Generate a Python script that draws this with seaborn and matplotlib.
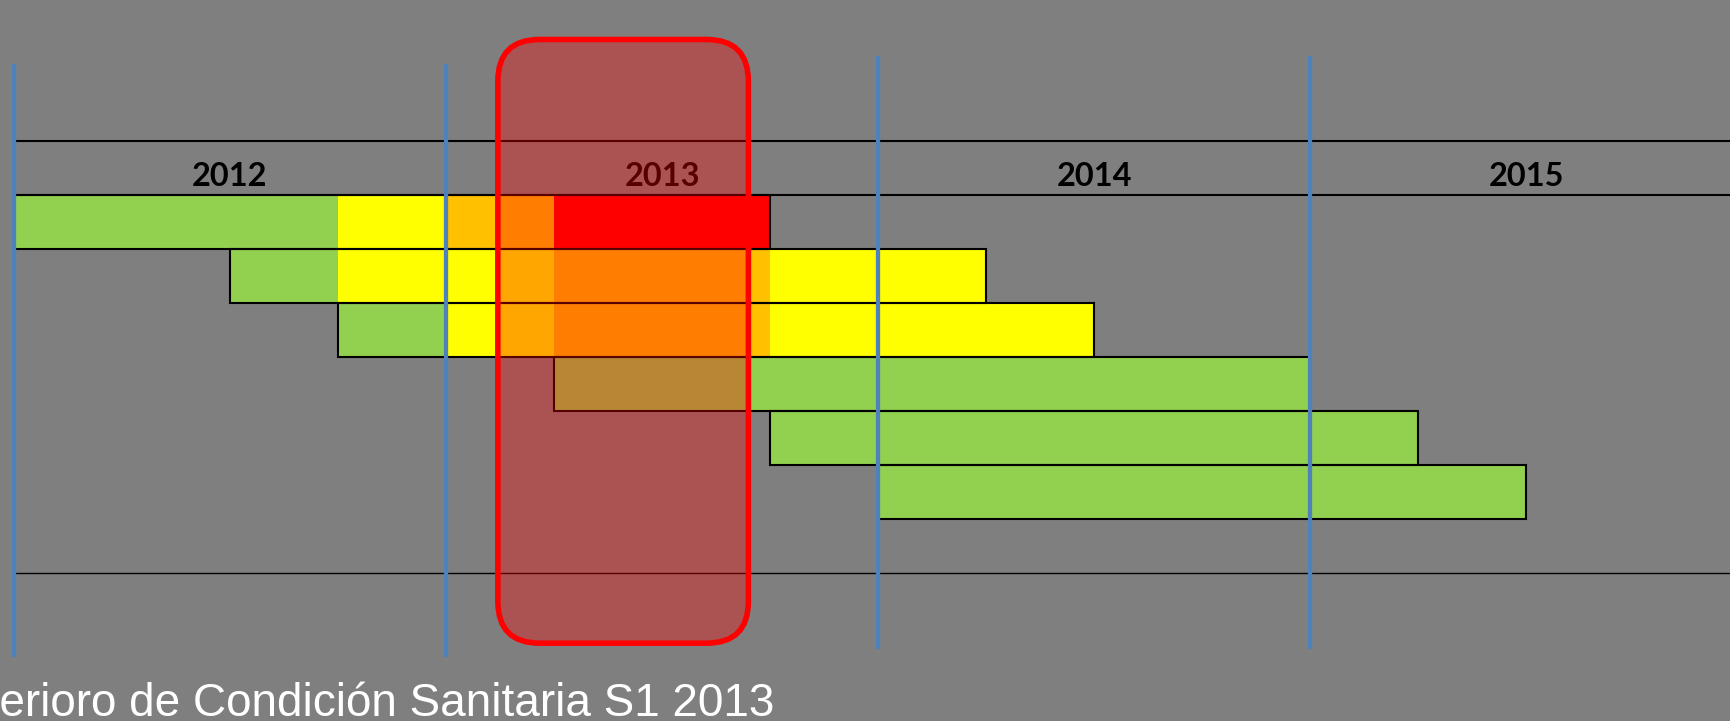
import matplotlib
matplotlib.use("Agg")
import matplotlib.pyplot as plt
from matplotlib.patches import FancyBboxPatch
import seaborn as sns

# cohortes (una fila cada una) y tramos de condicion sanitaria, en anos decimales
rows = ["C1", "C2", "C3", "C4", "C5", "C6"]
seg_row = [0, 0, 0, 0,
           1, 1, 1, 1,
           2, 2, 2, 2,
           3, 4, 5]
seg_start = [2012.0, 2012.75, 2013.0, 2013.25,
             2012.5, 2012.75, 2013.25, 2013.75,
             2012.75, 2013.0, 2013.25, 2013.75,
             2013.25, 2013.75, 2014.0]
seg_end = [2012.75, 2013.0, 2013.25, 2013.75,
           2012.75, 2013.25, 2013.75, 2014.25,
           2013.0, 2013.25, 2013.75, 2014.5,
           2015.0, 2015.25, 2015.5]
seg_state = ["sano", "leve", "moderado", "severo",
             "sano", "leve", "moderado", "leve",
             "sano", "leve", "moderado", "leve",
             "sano", "sano", "sano"]
years = [2012, 2013, 2014, 2015]
highlight = (2013.12, 2013.70)  # S1 2013
caption = "Deterioro de Condición Sanitaria S1 2013"

palette = {"sano": "#92D050", "leve": "#FFFF00", "moderado": "#FFC000", "severo": "#FF0000"}
bg = "#7F7F7F"
blue = "#4F81BD"

sns.set_theme(style="white")
fig = plt.figure(figsize=(17.31, 7.21), dpi=100, facecolor=bg)
ax = fig.add_axes([0, 0, 1, 1], facecolor=bg)

# tramos de color
for r, s, e, st in zip(seg_row, seg_start, seg_end, seg_state):
    sns.barplot(x=[e - s], y=[rows[r]], order=rows, orient="y", left=s,
                color=palette[st], saturation=1, width=1, errorbar=None,
                linewidth=0, ax=ax, zorder=2)

# contorno de cada fila
for i, name in enumerate(rows):
    s = min(v for r, v in zip(seg_row, seg_start) if r == i)
    e = max(v for r, v in zip(seg_row, seg_end) if r == i)
    sns.barplot(x=[e - s], y=[name], order=rows, orient="y", left=s,
                color="black", fill=False, edgecolor="black", linewidth=1.5,
                width=1, errorbar=None, ax=ax, zorder=3)

ax.set_xlim(2011.9676, 2015.9745)
ax.set_ylim(9.241, -4.111)
ax.set(xlabel="", ylabel="", xticks=[], yticks=[])
sns.despine(ax=ax, left=True, bottom=True)

# cabecera de anos y lineas guia
ax.hlines([-1.5, -0.5], 2012, 2016.5, color="black", lw=1.5, zorder=4)
ax.hlines(6.5, 2012, 2016.5, color="black", lw=1.0, zorder=4)
line_top = [-2.93, -2.93, -3.07, -3.07]
line_bottom = [8.05, 8.05, 7.90, 7.90]
for yr, t, b in zip(years, line_top, line_bottom):
    ax.vlines(yr, t, b, color=blue, lw=3.1, zorder=5)
    ax.text(yr + 0.5, -0.667, str(yr), ha="center", va="baseline",
            family="Lato", fontweight="bold", fontsize=23.4, color="black", zorder=6)

# recuadro del semestre destacado
box = FancyBboxPatch((highlight[0], -3.38), highlight[1] - highlight[0], 11.18,
                     boxstyle="round,pad=0,rounding_size=0.097", mutation_aspect=8.0,
                     facecolor=(1, 0, 0, 0.35), edgecolor="#FF0000", linewidth=4,
                     zorder=10)
ax.add_patch(box)

ax.text(2011.802, 9.148, caption, ha="left", va="baseline", family="Liberation Sans",
        fontsize=33, color="white", zorder=6)

fig.savefig("out.png", dpi=100, facecolor=bg)
